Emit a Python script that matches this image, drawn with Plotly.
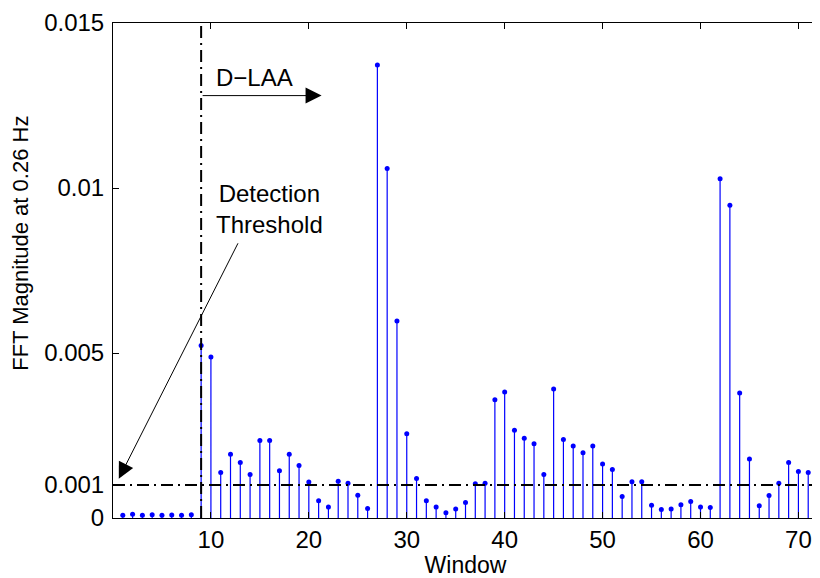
import plotly.graph_objects as go

windows = list(range(1, 72))
fft_mag = [
    0.00008, 0.00011, 0.00008, 0.00010, 0.00008, 0.00009, 0.00008, 0.00010,  # 1-8
    0.00523, 0.00488, 0.00138, 0.00193, 0.00168, 0.00132, 0.00235, 0.00235,  # 9-16
    0.00143, 0.00193, 0.00159, 0.00109, 0.00052, 0.00033, 0.00111, 0.00105,  # 17-24
    0.00069, 0.00029, 0.01373, 0.01059, 0.00597, 0.00255, 0.00120, 0.00052,  # 25-32
    0.00033, 0.00016, 0.00027, 0.00047, 0.00104, 0.00105, 0.00358, 0.00382,  # 33-40
    0.00266, 0.00242, 0.00225, 0.00132, 0.00391, 0.00238, 0.00218, 0.00198,  # 41-48
    0.00218, 0.00164, 0.00147, 0.00065, 0.00110, 0.00110, 0.00039, 0.00026,  # 49-56
    0.00027, 0.00040, 0.00050, 0.00033, 0.00032, 0.01028, 0.00948, 0.00379,  # 57-64
    0.00179, 0.00037, 0.00068, 0.00105, 0.00168, 0.00141, 0.00138,           # 65-71
]

threshold = 0.001
dlaa_start = 9
x_ticks = [10, 20, 30, 40, 50, 60, 70]
y_ticks = [0, 0.001, 0.005, 0.01, 0.015]
y_tick_text = ["0", "0.001", "0.005", "0.01", "0.015"]

FONT = "Liberation Sans, Arial, Helvetica, sans-serif"

fig = go.Figure()
fig.add_trace(go.Scatter(
    x=windows, y=fft_mag, mode="markers",
    marker=dict(color="blue", size=5),
    error_y=dict(type="data", symmetric=False, array=[0] * len(fft_mag),
                 arrayminus=fft_mag, width=0, color="blue", thickness=1.2),
    showlegend=False, hoverinfo="x+y",
))

dash = "12px,5px,2px,5px"
fig.add_shape(type="line", x0=0, x1=72, y0=threshold, y1=threshold,
              xref="x", yref="y", line=dict(color="black", width=2, dash=dash))
fig.add_shape(type="line", x0=dlaa_start, x1=dlaa_start, y0=0, y1=0.015,
              xref="x", yref="y", line=dict(color="black", width=2, dash=dash))

# D-LAA arrow
fig.add_annotation(x=21.3, y=0.0128, ax=dlaa_start, ay=0.0128, axref="x", ayref="y",
                   xref="x", yref="y", text="", showarrow=True, arrowhead=2,
                   arrowsize=3.2, arrowwidth=1, arrowcolor="black", standoff=0)
fig.add_annotation(x=14.4, y=0.01334, xref="x", yref="y", text="D\u2212LAA",
                   showarrow=False, font=dict(family=FONT, size=24, color="black"))

# Detection threshold arrow
fig.add_annotation(x=0.59, y=0.00119, ax=12.84, ay=0.00837, axref="x", ayref="y",
                   xref="x", yref="y", text="", showarrow=True, arrowhead=2,
                   arrowsize=3.2, arrowwidth=1, arrowcolor="black", standoff=0)
fig.add_annotation(x=16.0, y=0.00935, xref="x", yref="y",
                   text="Detection<br>Threshold", showarrow=False, align="center",
                   font=dict(family=FONT, size=24, color="black"))

# y-axis title
fig.add_annotation(x=0, y=0.554, xref="paper", yref="paper", xshift=-92,
                   text="FFT Magnitude at 0.26 Hz", textangle=-90, showarrow=False,
                   xanchor="center", yanchor="middle",
                   font=dict(family=FONT, size=22, color="black"))

fig.update_layout(
    width=812, height=570,
    margin=dict(l=105, r=1, t=12, b=60),
    paper_bgcolor="white", plot_bgcolor="white",
    font=dict(family=FONT, size=24, color="black"),
    xaxis=dict(range=[0, 72], tickvals=x_ticks, ticks="inside", ticklen=6,
               tickcolor="black", showline=True, linecolor="black", linewidth=1,
               mirror="ticks", showgrid=False, zeroline=False,
               title=dict(text="Window", standoff=3, font=dict(size=23))),
    yaxis=dict(range=[0, 0.0150001], tickvals=y_ticks, ticktext=y_tick_text,
               ticks="inside", ticklen=6, tickcolor="black", showline=True,
               linecolor="black", linewidth=1, mirror="ticks", showgrid=False,
               zeroline=False, ticklabelstandoff=3, ticklabeloverflow="allow"),
)

fig.write_html("out.html")
